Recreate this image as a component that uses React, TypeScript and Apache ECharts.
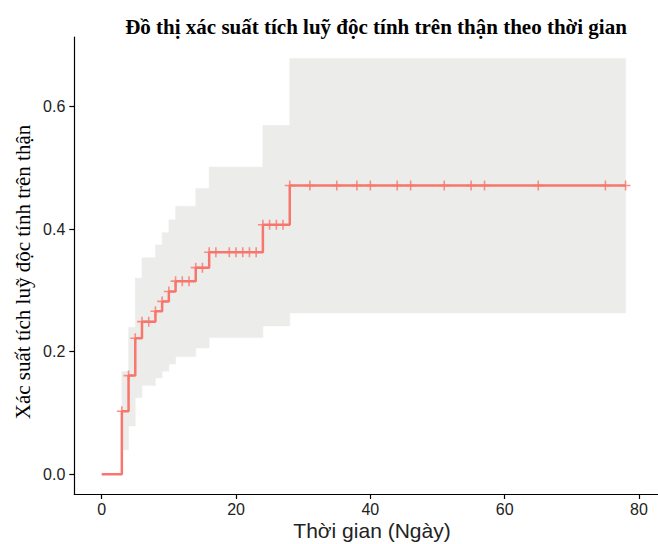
import React, { useEffect, useRef } from "react";
import * as echarts from "echarts";

// Kaplan-Meier style cumulative incidence (step function)
const eventTimes = [0, 3, 4, 5, 6, 8, 9, 10, 11, 14, 16, 24, 28];
const cumIncidence = [0, 0.103, 0.161, 0.222, 0.249, 0.266, 0.282, 0.298, 0.315, 0.337, 0.362, 0.407, 0.471];
const lastTime = 78;

// Confidence band (step function)
const ciTimes = [3, 4, 5, 6, 8, 9, 10, 11, 14, 16, 24, 28, 78];
const ciLower = [0.04, 0.079, 0.125, 0.145, 0.157, 0.168, 0.18, 0.192, 0.206, 0.223, 0.242, 0.263, 0.263];
const ciUpper = [0.168, 0.24, 0.32, 0.353, 0.374, 0.394, 0.415, 0.437, 0.466, 0.501, 0.569, 0.678, 0.678];

// Censoring marks
const censorTimes = [3, 4, 5, 6, 7, 8, 9, 10, 11, 12, 13, 14, 15, 16, 17, 19, 20, 21, 22, 23, 24, 25, 26, 27, 28, 31, 35, 38, 40, 44, 46, 51, 55, 57, 65, 75, 78];

const xTicks = [0, 20, 40, 60, 80];
const yTicks = [0, 0.2, 0.4, 0.6];

const titleText = "Đồ thị xác suất tích luỹ độc tính trên thận theo thời gian";
const xTitle = "Thời gian (Ngày)";
const yTitle = "Xác suất tích luỹ độc tính trên thận";

function valueAt(t: number): number {
  let v = 0;
  for (let i = 0; i < eventTimes.length; i++) {
    if (eventTimes[i] <= t) v = cumIncidence[i];
  }
  return v;
}

const LINE = "#F8766D";
const BAND = "#ECEDEB";
const CROSS = "path://M-0.8,-5 L0.8,-5 L0.8,-0.8 L5,-0.8 L5,0.8 L0.8,0.8 L0.8,5 L-0.8,5 L-0.8,0.8 L-5,0.8 L-5,-0.8 L-0.8,-0.8 Z";

export default function App() {
  const ref = useRef<HTMLDivElement>(null);

  useEffect(() => {
    document.body.style.margin = "0";
    if (!ref.current) return;
    const chart = echarts.init(ref.current, undefined, { renderer: "svg" });

    const curve = eventTimes.map((t, i) => [t, cumIncidence[i]]);
    curve.push([lastTime, cumIncidence[cumIncidence.length - 1]]);

    const bandData = ciTimes.map((t, i) => [t, ciLower[i], ciUpper[i]]);

    const option: any = {
      animation: false,
      backgroundColor: "#ffffff",
      grid: { left: 74.3, top: 37, right: 0, height: 457, containLabel: false },
      xAxis: {
        type: "value",
        min: -4.08,
        max: 82.83,
        splitLine: { show: false },
        axisLine: { show: true, onZero: false, lineStyle: { color: "#000", width: 1.2 } },
        axisTick: { show: true, length: 5, lineStyle: { color: "#000", width: 1.2 }, customValues: xTicks },
        axisLabel: {
          customValues: xTicks,
          color: "#222",
          fontSize: 16,
          fontFamily: "Liberation Sans, Arial, sans-serif",
          margin: 7,
          formatter: (v: number) => String(v),
        },
      },
      yAxis: {
        type: "value",
        min: -0.032,
        max: 0.713,
        splitLine: { show: false },
        axisLine: { show: true, onZero: false, lineStyle: { color: "#000", width: 1.2 } },
        axisTick: { show: true, length: 5, lineStyle: { color: "#000", width: 1.2 }, customValues: yTicks },
        axisLabel: {
          customValues: yTicks,
          color: "#222",
          fontSize: 16,
          fontFamily: "Liberation Sans, Arial, sans-serif",
          margin: 9,
          formatter: (v: number) => v.toFixed(1),
        },
      },
      graphic: [
        {
          type: "text",
          x: 376,
          y: 27,
          style: {
            text: titleText,
            fill: "#000",
            font: "bold 21px 'Liberation Serif', 'Times New Roman', serif",
            textAlign: "center",
            textVerticalAlign: "middle",
          },
        },
        {
          type: "text",
          x: 372,
          y: 530,
          style: {
            text: xTitle,
            fill: "#222",
            font: "21px 'Liberation Sans', Arial, sans-serif",
            textAlign: "center",
            textVerticalAlign: "middle",
          },
        },
        {
          type: "text",
          x: 23,
          y: 272,
          rotation: Math.PI / 2,
          style: {
            text: yTitle,
            fill: "#000",
            font: "21px 'Liberation Serif', 'Times New Roman', serif",
            textAlign: "center",
            textVerticalAlign: "middle",
          },
        },
      ],
      series: [
        {
          name: "ciBand",
          type: "custom",
          silent: true,
          data: bandData,
          encode: { x: 0, y: [1, 2] },
          z: 1,
          renderItem: (params: any, api: any) => {
            if (params.dataIndex !== 0) return null;
            const n = bandData.length;
            const top: number[][] = [];
            const bottom: number[][] = [];
            for (let i = 0; i < n - 1; i++) {
              const t0 = bandData[i][0];
              const t1 = bandData[i + 1][0];
              top.push(api.coord([t0, bandData[i][2]]));
              top.push(api.coord([t1, bandData[i][2]]));
              bottom.push(api.coord([t0, bandData[i][1]]));
              bottom.push(api.coord([t1, bandData[i][1]]));
            }
            const points = top.concat(bottom.reverse());
            return {
              type: "polygon",
              shape: { points },
              style: { fill: BAND, stroke: BAND, lineWidth: 0.5 },
            };
          },
        },
        {
          name: "curve",
          type: "line",
          step: "end",
          symbol: "none",
          lineStyle: { color: LINE, width: 2.5 },
          data: curve,
          z: 3,
        },
        {
          name: "censor",
          type: "scatter",
          symbol: CROSS,
          symbolSize: 10,
          itemStyle: { color: LINE },
          data: censorTimes.map((t) => [t, valueAt(t)]),
          z: 4,
        },
      ],
    };

    chart.setOption(option);
    return () => chart.dispose();
  }, []);

  return <div ref={ref} style={{ width: 658, height: 544 }} />;
}
